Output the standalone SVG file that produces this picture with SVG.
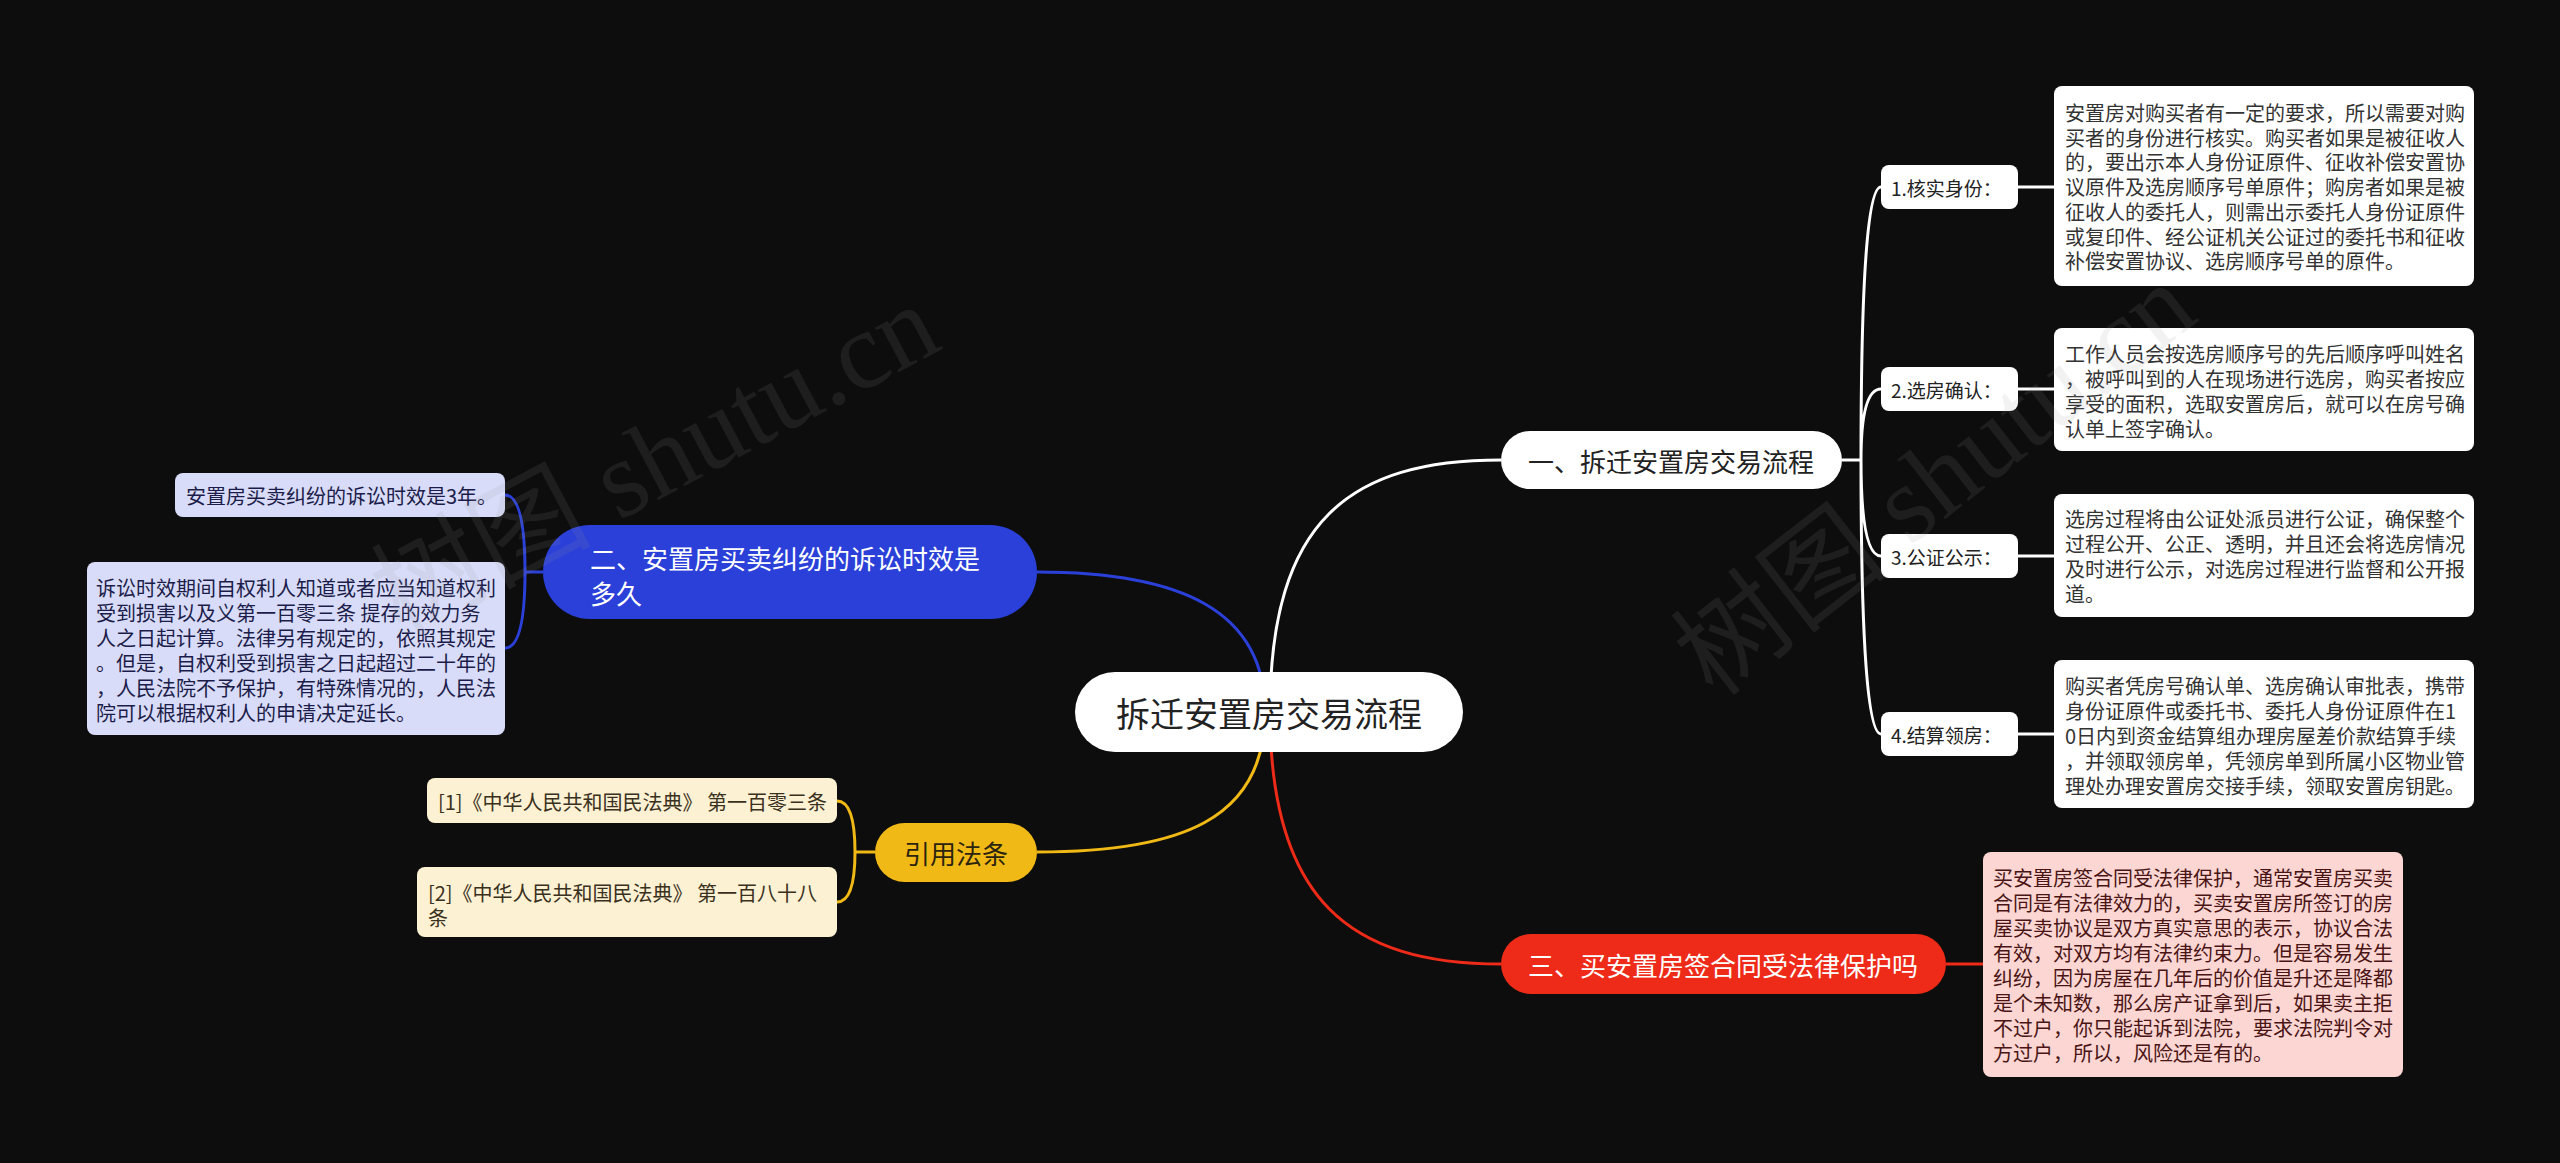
<svg xmlns="http://www.w3.org/2000/svg" width="2560" height="1163" viewBox="0 0 2560 1163">
<style>
text{font-family:"Noto Sans CJK SC","Noto Sans",sans-serif;dominant-baseline:central}
.c{fill:none;stroke-width:3}
.t20{font-size:20px}
.t18{font-size:19px}
.t26{font-size:26px}
.wm{font-family:"Liberation Serif","Noto Sans CJK SC",serif;font-size:110px;fill:#9a9a9a;opacity:0.12}
</style>
<rect width="2560" height="1163" fill="#0d0d0d"/>
<g id="connectors">
<path class="c" stroke="#ffffff" d="M1270 712 C1270 520 1350 460 1501 460"/>
<path class="c" stroke="#2a40d8" d="M1265 712 C1265 610 1180 572 1037 572"/>
<path class="c" stroke="#f1b915" d="M1265 712 C1265 820 1180 852 1037 852"/>
<path class="c" stroke="#ee2a18" d="M1270 712 C1270 900 1350 964 1501 964"/>
<path class="c" stroke="#ffffff" d="M1842 460 H1861 M1861 460 Q1861 187 1881 187 M1861 460 Q1861 389 1881 389 M1861 460 Q1861 556 1881 556 M1861 460 Q1861 734 1881 734"/>
<path class="c" stroke="#ffffff" d="M2018 187 H2054 M2018 389 H2054 M2018 556 H2054 M2018 734 H2054"/>
<path class="c" stroke="#2a40d8" d="M543 572 H525 M525 572 Q525 495 505 495 M525 572 Q525 648 505 648"/>
<path class="c" stroke="#f1b915" d="M875 852 H855 M855 852 Q855 801 837 801 M855 852 Q855 902 837 902"/>
<path class="c" stroke="#ee2a18" d="M1946 964 H1983"/>
</g>
<g id="root">
<rect x="1075" y="672" width="388" height="80" rx="40" fill="#ffffff"/>
<text x="1269" y="712" font-size="34" text-anchor="middle" fill="#222">拆迁安置房交易流程</text>
</g>
<g id="branch1">
<rect x="1501" y="431" width="341" height="58" rx="29" fill="#ffffff"/>
<text x="1671" y="460" class="t26" text-anchor="middle" fill="#222">一、拆迁安置房交易流程</text>
</g>
<g id="sub1">
<rect x="1881" y="165" width="137" height="44" rx="8" fill="#ffffff"/>
<text x="1891" y="187" class="t18" fill="#222">1.核实身份：</text>
</g>
<g id="sub2">
<rect x="1881" y="367" width="137" height="44" rx="8" fill="#ffffff"/>
<text x="1891" y="389" class="t18" fill="#222">2.选房确认：</text>
</g>
<g id="sub3">
<rect x="1881" y="534" width="137" height="44" rx="8" fill="#ffffff"/>
<text x="1891" y="556" class="t18" fill="#222">3.公证公示：</text>
</g>
<g id="sub4">
<rect x="1881" y="712" width="137" height="44" rx="8" fill="#ffffff"/>
<text x="1891" y="734" class="t18" fill="#222">4.结算领房：</text>
</g>
<g id="detail1">
<rect x="2054" y="86" width="420" height="200" rx="8" fill="#ffffff"/>
<text class="t20" fill="#333">
<tspan x="2065" y="112">安置房对购买者有一定的要求，所以需要对购</tspan>
<tspan x="2065" y="136.7">买者的身份进行核实。购买者如果是被征收人</tspan>
<tspan x="2065" y="161.4">的，要出示本人身份证原件、征收补偿安置协</tspan>
<tspan x="2065" y="186.1">议原件及选房顺序号单原件；购房者如果是被</tspan>
<tspan x="2065" y="210.8">征收人的委托人，则需出示委托人身份证原件</tspan>
<tspan x="2065" y="235.5">或复印件、经公证机关公证过的委托书和征收</tspan>
<tspan x="2065" y="260.2">补偿安置协议、选房顺序号单的原件。</tspan>
</text>
</g>
<g id="detail2">
<rect x="2054" y="328" width="420" height="123" rx="8" fill="#ffffff"/>
<text class="t20" fill="#333">
<tspan x="2065" y="353">工作人员会按选房顺序号的先后顺序呼叫姓名</tspan>
<tspan x="2065" y="378">，被呼叫到的人在现场进行选房，购买者按应</tspan>
<tspan x="2065" y="403">享受的面积，选取安置房后，就可以在房号确</tspan>
<tspan x="2065" y="428">认单上签字确认。</tspan>
</text>
</g>
<g id="detail3">
<rect x="2054" y="494" width="420" height="123" rx="8" fill="#ffffff"/>
<text class="t20" fill="#333">
<tspan x="2065" y="518">选房过程将由公证处派员进行公证，确保整个</tspan>
<tspan x="2065" y="543">过程公开、公正、透明，并且还会将选房情况</tspan>
<tspan x="2065" y="568">及时进行公示，对选房过程进行监督和公开报</tspan>
<tspan x="2065" y="593">道。</tspan>
</text>
</g>
<g id="detail4">
<rect x="2054" y="660" width="420" height="148" rx="8" fill="#ffffff"/>
<text class="t20" fill="#333">
<tspan x="2065" y="685">购买者凭房号确认单、选房确认审批表，携带</tspan>
<tspan x="2065" y="710">身份证原件或委托书、委托人身份证原件在1</tspan>
<tspan x="2065" y="735">0日内到资金结算组办理房屋差价款结算手续</tspan>
<tspan x="2065" y="760">，并领取领房单，凭领房单到所属小区物业管</tspan>
<tspan x="2065" y="785">理处办理安置房交接手续，领取安置房钥匙。</tspan>
</text>
</g>
<g id="branch3">
<rect x="1501" y="934" width="445" height="60" rx="30" fill="#ee2a18"/>
<text x="1723" y="964" class="t26" text-anchor="middle" fill="#ffffff">三、买安置房签合同受法律保护吗</text>
</g>
<g id="detail5">
<rect x="1983" y="852" width="420" height="225" rx="8" fill="#fbd6d3"/>
<text class="t20" fill="#4a1414">
<tspan x="1993" y="877">买安置房签合同受法律保护，通常安置房买卖</tspan>
<tspan x="1993" y="902">合同是有法律效力的，买卖安置房所签订的房</tspan>
<tspan x="1993" y="927">屋买卖协议是双方真实意思的表示，协议合法</tspan>
<tspan x="1993" y="952">有效，对双方均有法律约束力。但是容易发生</tspan>
<tspan x="1993" y="977">纠纷，因为房屋在几年后的价值是升还是降都</tspan>
<tspan x="1993" y="1002">是个未知数，那么房产证拿到后，如果卖主拒</tspan>
<tspan x="1993" y="1027">不过户，你只能起诉到法院，要求法院判令对</tspan>
<tspan x="1993" y="1052">方过户，所以，风险还是有的。</tspan>
</text>
</g>
<g id="branch2">
<rect x="543" y="525" width="494" height="94" rx="47" fill="#2a40d8"/>
<text class="t26" fill="#ffffff">
<tspan x="590" y="557">二、安置房买卖纠纷的诉讼时效是</tspan>
<tspan x="590" y="592">多久</tspan>
</text>
</g>
<g id="left1">
<rect x="175" y="473" width="330" height="44" rx="8" fill="#d8dcf8"/>
<text x="186" y="495" class="t20" fill="#1c1c4a">安置房买卖纠纷的诉讼时效是3年。</text>
</g>
<g id="left2">
<rect x="87" y="562" width="418" height="173" rx="8" fill="#d8dcf8"/>
<text class="t20" fill="#1c1c4a">
<tspan x="96" y="587">诉讼时效期间自权利人知道或者应当知道权利</tspan>
<tspan x="96" y="612">受到损害以及义第一百零三条 提存的效力务</tspan>
<tspan x="96" y="637">人之日起计算。法律另有规定的，依照其规定</tspan>
<tspan x="96" y="662">。但是，自权利受到损害之日起超过二十年的</tspan>
<tspan x="96" y="687">，人民法院不予保护，有特殊情况的，人民法</tspan>
<tspan x="96" y="712">院可以根据权利人的申请决定延长。</tspan>
</text>
</g>
<g id="branch4">
<rect x="875" y="823" width="162" height="59" rx="29.5" fill="#f1b915"/>
<text x="956" y="852" class="t26" text-anchor="middle" fill="#2b2410">引用法条</text>
</g>
<g id="ref1">
<rect x="427" y="778" width="410" height="45" rx="8" fill="#fcf1d3"/>
<text x="438" y="801" class="t20" fill="#3a3020">[1]《中华人民共和国民法典》 第一百零三条</text>
</g>
<g id="ref2">
<rect x="417" y="867" width="420" height="70" rx="8" fill="#fcf1d3"/>
<text class="t20" fill="#3a3020">
<tspan x="428" y="892">[2]《中华人民共和国民法典》 第一百八十八</tspan>
<tspan x="428" y="917">条</tspan>
</text>
</g>
<g id="watermark">
<text class="wm" x="655" y="460" text-anchor="middle" transform="rotate(-28 655 460)">树图 shutu.cn</text>
<text class="wm" x="1935" y="480" text-anchor="middle" transform="rotate(-38 1935 480)">树图 shutu.cn</text>
</g>
</svg>
